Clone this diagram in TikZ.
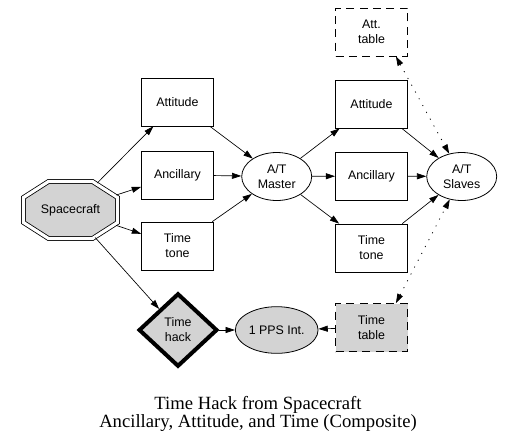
\documentclass[tikz,border=0pt]{standalone}
\usepackage{fontspec}
\setmainfont{Liberation Serif}
\newfontfamily\nodefont{Liberation Sans}
\usetikzlibrary{arrows.meta,shapes.geometric}
\definecolor{nodegray}{RGB}{211,211,211}

\begin{document}
\begin{tikzpicture}[x=.75pt,y=-.75pt,>={Triangle[length=7pt,width=4.5pt]},
  font=\nodefont\fontsize{9.3}{11.2}\selectfont,
  box/.style={draw,line width=.6pt,minimum width=54pt,minimum height=36pt,align=center,inner sep=1pt},
  oval/.style={draw,ellipse,line width=.6pt,minimum width=52.5pt,minimum height=36pt,align=center,inner sep=1pt},
  link/.style={->,line width=.5pt},
  dotlink/.style={<->,line width=.6pt,dash pattern=on .8pt off 5pt}]
\useasboundingbox (0,0) rectangle (516,447);
% sources
\draw[shift={(70.5,210)},double,double distance=2.4pt,line width=.6pt,fill=nodegray]
  (-47,-12.5) -- (-22,-28.5) -- (22,-28.5) -- (47,-12.5) -- (47,12.5) -- (22,28.5) -- (-22,28.5) -- (-47,12.5) -- cycle;
\node[ellipse,minimum width=78pt,minimum height=46.5pt,inner sep=0pt] (sc) at (70.5,210) {Spacecraft};
\node[box] (attl) at (177.5,102) {Attitude};
\node[box] (ancl) at (177.5,175) {Ancillary};
\node[box] (ttl) at (177.5,246) {Time\\tone};
\node[diamond,draw,line width=3pt,fill=nodegray,minimum width=59pt,minimum height=55pt,inner sep=0pt,align=center] (hack) at (178,330) {Time\\hack};
% master / slaves
\node[oval] (master) at (276.7,176.5) {A/T\\Master};
\node[oval,fill=nodegray,minimum width=57.5pt,minimum height=35pt] (pps) at (276.7,330) {1 PPS Int.};
\node[box] (attr) at (371.5,104) {Attitude};
\node[box] (ancr) at (371.5,176) {Ancillary};
\node[box] (ttr) at (371.5,248) {Time\\tone};
\node[box,dashed,dash pattern=on 6pt off 4pt] (atttab) at (371.5,32) {Att.\\table};
\node[box,draw,dash pattern=on 6pt off 4pt,fill=nodegray] (timetab) at (371.5,327.5) {Time\\table};
\node[oval] (slaves) at (461.7,176.5) {A/T\\Slaves};

\draw[link] (sc) -- (attl);
\draw[link] (sc) -- (ancl);
\draw[link] (sc) -- (ttl);
\draw[link] (sc) -- (hack);
\draw[link] (attl) -- (master);
\draw[link] (ancl) -- (master);
\draw[link] (ttl) -- (master);
\draw[link] (master) -- (attr);
\draw[link] (master) -- (ancr);
\draw[link] (master) -- (ttr);
\draw[link] (attr) -- (slaves);
\draw[link] (ancr) -- (slaves);
\draw[link] (ttr) -- (slaves);
\draw[link] (hack) -- (pps);
\draw[link] (timetab) -- (pps);
\draw[dotlink] (atttab.-45) -- (slaves);
\draw[dotlink] (timetab.45) -- (slaves);

\node[font=\fontsize{14}{14}\selectfont,align=center] (caption) at (258,414) {Time Hack from Spacecraft\\Ancillary, Attitude, and Time (Composite)};
\end{tikzpicture}
\end{document}
